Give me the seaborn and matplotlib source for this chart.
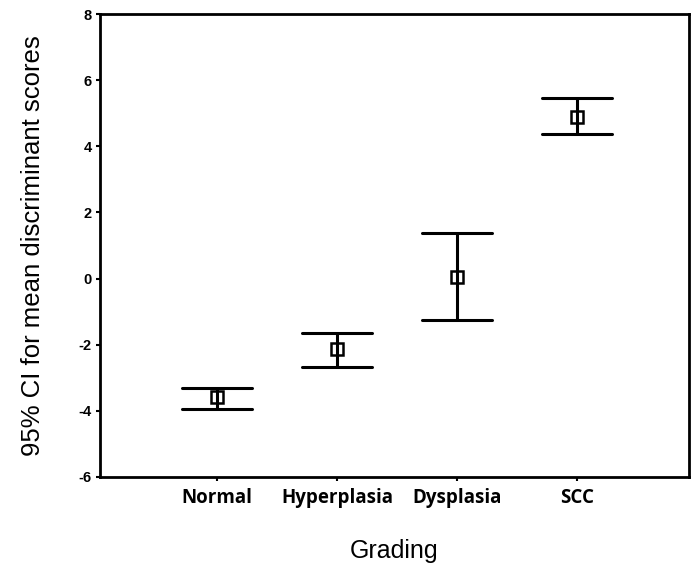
import matplotlib
matplotlib.use("Agg")
import matplotlib.pyplot as plt
import seaborn as sns
import pandas as pd
import numpy as np

categories = ["Normal", "Hyperplasia", "Dysplasia", "SCC"]
means = [-3.59, -2.14, 0.06, 4.90]
ci_lower = [-3.95, -2.66, -1.24, 4.38]
ci_upper = [-3.30, -1.66, 1.37, 5.45]
yticks = [-6, -4, -2, 0, 2, 4, 6, 8]

rows = []
for c, lo, m, hi in zip(categories, ci_lower, means, ci_upper):
    for v in (lo, m, hi):
        rows.append({"Grading": c, "score": v})
df = pd.DataFrame(rows)

sns.set_style("white")
plt.rcParams["text.color"] = "black"
plt.rcParams["axes.labelcolor"] = "black"
plt.rcParams["xtick.color"] = "black"
plt.rcParams["ytick.color"] = "black"
fig = plt.figure(figsize=(6.91, 5.65), dpi=100)
ax = fig.add_axes([0.1447, 0.1558, 0.8523, 0.8192])

sns.pointplot(data=df, x="Grading", y="score", order=categories,
              estimator="median", errorbar=lambda x: (x.min(), x.max()),
              capsize=0.58, color="black", linestyle="none",
              marker="s", markersize=8, markerfacecolor="white",
              markeredgewidth=1.8, markeredgecolor="black",
              err_kws={"linewidth": 2.2, "color": "black"}, ax=ax)

ax.set_xlim(-0.975, 3.93)
ax.set_ylim(-6, 8)
ax.set_yticks(yticks)
ax.set_yticklabels([str(t) for t in yticks], fontsize=10.5, fontweight="bold",
                   family="Liberation Sans", color="black")
ax.set_xticks(range(len(categories)))
ax.set_xticklabels(categories, fontsize=13.5, fontweight="bold", family="Open Sans",
                   color="black")
ax.tick_params(axis="y", direction="out", length=3, width=1.5, pad=3, left=True)
ax.tick_params(axis="x", direction="out", length=3, width=1.5, pad=5, bottom=True)
for s in ax.spines.values():
    s.set_color("black")
    s.set_linewidth(2)
ax.set_xlabel("Grading", fontsize=18, family="Liberation Sans", labelpad=22,
              color="black")
ax.set_ylabel("95% CI for mean discriminant scores", fontsize=18.5,
              family="Liberation Sans", labelpad=24, color="black")

fig.savefig("out.png", dpi=100)
